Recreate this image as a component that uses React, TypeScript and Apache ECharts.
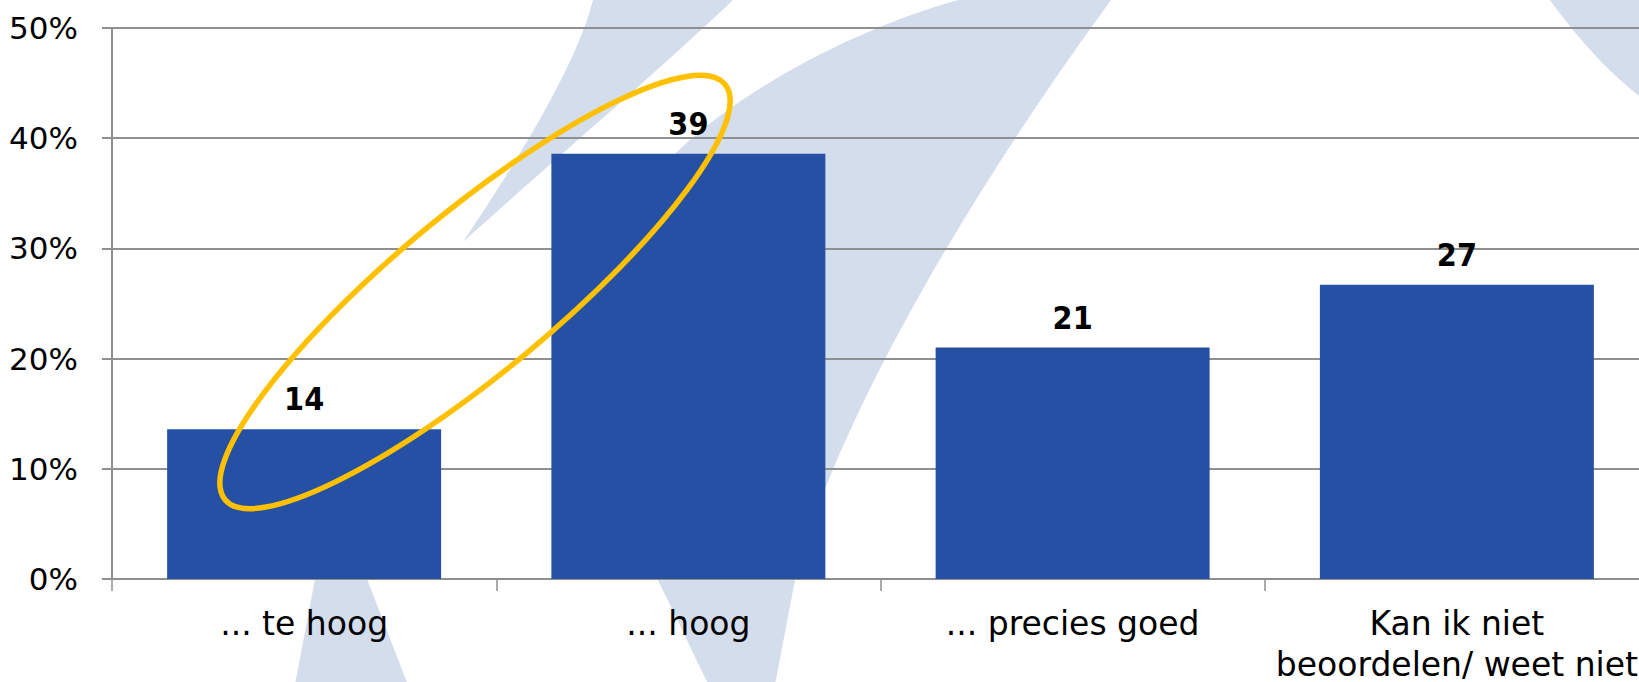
import React, { useEffect, useRef } from 'react';
import * as echarts from 'echarts';

const categories = ['... te hoog', '... hoog', '... precies goed', 'Kan ik niet\nbeoordelen/ weet niet'];
const values = [13.6, 38.6, 21.0, 26.7];
const yMin = 0;
const yMax = 50;
const yInterval = 10;

const BAR_COLOR = '#2550a3';
const GRID_COLOR = '#8f8f8f';
const WM_COLOR = '#d4ddec';
const LABEL_FONT = "'DejaVu Sans', 'Noto Sans', sans-serif";
const VALUE_FONT = "'Liberation Sans Narrow', 'DejaVu Sans Condensed', 'Roboto', sans-serif";

const WM_PATHS: Record<string, string> = {
  wmBand1: 'M593,0 C578,60 525,150 463,242 C540,172 660,70 733,0 Z',
  wmBand2:
    'M958,0 C850,30 720,100 660,170 C610,240 615,420 658,580 L711,690 L774,690 L795,580 C830,440 950,220 1111,0 Z',
  wmBand0: 'M340,440 L315,579 L294,690 L410,690 L367,579 Z',
  wmBand3: 'M1550,0 C1575,35 1605,70 1650,105 L1650,0 Z',
};

let registered = false;
function registerWatermark() {
  if (registered) return;
  registered = true;
  Object.keys(WM_PATHS).forEach((name) => {
    echarts.graphic.registerShape(name, echarts.graphic.extendPath(WM_PATHS[name], {}) as any);
  });
}

export default function App() {
  const ref = useRef<HTMLDivElement>(null);
  useEffect(() => {
    document.body.style.margin = '0';
    registerWatermark();
    const chart = echarts.init(ref.current!, null, { renderer: 'svg' });
    const wm = (name: string) => ({
      type: name,
      z: -10,
      silent: true,
      x: 0,
      y: 0,
      scaleX: 1,
      scaleY: 1,
      style: { fill: WM_COLOR },
    });
    chart.setOption({
      animation: false,
      backgroundColor: '#ffffff',
      grid: { left: 112, top: 28, width: 1537, height: 551, containLabel: false, outerBoundsMode: 'none' },
      xAxis: {
        type: 'category',
        data: categories,
        axisLine: { show: true, lineStyle: { color: GRID_COLOR, width: 2 } },
        axisTick: { show: true, length: 12, lineStyle: { color: GRID_COLOR, width: 1.5 } },
        axisLabel: {
          interval: 0,
          color: '#000',
          fontSize: 33,
          fontFamily: LABEL_FONT,
          margin: 24,
          lineHeight: 41,
        },
      },
      yAxis: {
        type: 'value',
        min: yMin,
        max: yMax,
        interval: yInterval,
        axisLine: { show: true, lineStyle: { color: GRID_COLOR, width: 2 } },
        axisTick: { show: true, length: 10, lineStyle: { color: GRID_COLOR, width: 2 } },
        splitLine: { show: true, lineStyle: { color: GRID_COLOR, width: 2 } },
        axisLabel: {
          formatter: '{value}%',
          color: '#000',
          fontSize: 31,
          fontFamily: LABEL_FONT,
          margin: 34,
        },
      },
      series: [
        {
          type: 'bar',
          data: values,
          barCategoryGap: '28.7%',
          itemStyle: { color: BAR_COLOR },
          label: {
            show: true,
            position: 'top',
            distance: 14,
            formatter: (p: any) => String(Math.round(p.value)),
            color: '#000',
            fontSize: 32,
            fontWeight: 'bold',
            fontFamily: VALUE_FONT,
          },
        },
      ],
      graphic: [
        wm('wmBand1'),
        wm('wmBand2'),
        wm('wmBand0'),
        wm('wmBand3'),
        {
          type: 'ellipse',
          z: 100,
          silent: true,
          x: 475,
          y: 292,
          rotation: 0.693,
          shape: { cx: 0, cy: 0, rx: 325, ry: 80 },
          style: { fill: 'none', stroke: '#ffc000', lineWidth: 5.5 },
        },
      ],
    });
    return () => chart.dispose();
  }, []);
  return <div ref={ref} style={{ width: 1639, height: 682 }} />;
}
